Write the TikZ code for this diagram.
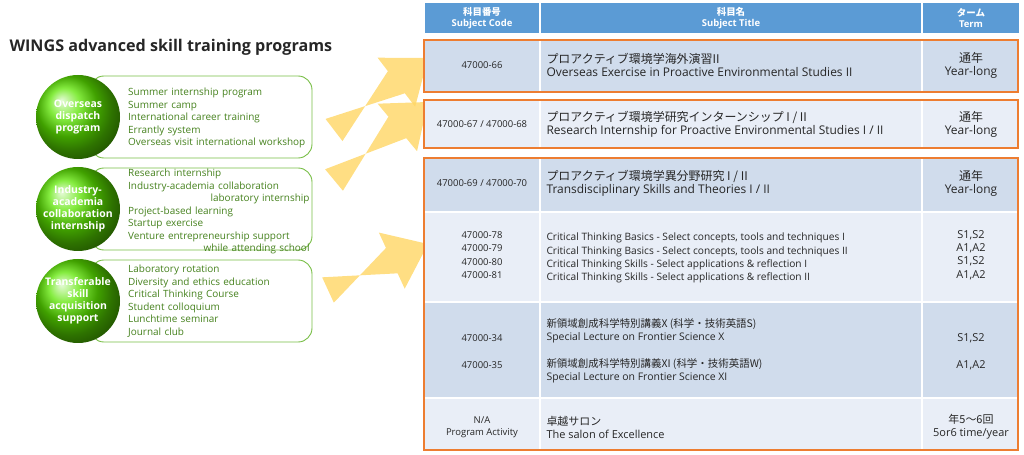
\documentclass[tikz,border=0pt]{standalone}
\usepackage{fontspec}
\setmainfont{Open Sans}
\newfontfamily\jp{Noto Sans CJK JP}
\usetikzlibrary{positioning, calc}
\definecolor{hdrblue}{RGB}{91,155,213}
\definecolor{rowdark}{RGB}{208,220,236}
\definecolor{rowlight}{RGB}{233,238,247}
\definecolor{frameorange}{RGB}{237,125,49}
\definecolor{listgreen}{RGB}{70,130,30}
\definecolor{boxgreen}{RGB}{120,190,70}
\definecolor{arrowyellow}{RGB}{255,214,100}
\tikzset{
  hdr/.style={fill=hdrblue, draw=white, line width=1.5},
  cell/.style={draw=white, line width=1.5},
  hdrtext/.style={text=white, font=\bfseries\fontsize{9.5}{11}\selectfont, align=center},
  codetext/.style={font=\fontsize{9.5}{12}\selectfont, align=center, text=black!85},
  titletext/.style={font=\fontsize{12}{13}\selectfont, align=left, anchor=west, text=black!85},
  termtext/.style={font=\fontsize{12}{13}\selectfont, align=center, text=black!85},
  listtext/.style={font=\fontsize{10}{12.5}\selectfont, text=listgreen, anchor=north west, align=left, text width=182, inner sep=0},
  progbox/.style={draw=boxgreen, fill=white, line width=0.9, rounded corners=14},
  ball/.style={ball color=green!60!yellow!90!black},
  balltext/.style={text=white, font=\bfseries\fontsize{10.5}{12}\selectfont, align=center},
  yarrowfill/.style={fill=arrowyellow, opacity=0.8}
}
% big arrow from #1 to #2
\newcommand{\yarrow}[2]{%
  \fill[yarrowfill] ($(#1)!14pt!90:(#2)$) -- ($($(#2)!40pt!(#1)$)!14pt!-90:(#2)$)
    -- ($($(#2)!40pt!(#1)$)!31pt!-90:(#2)$) -- (#2)
    -- ($($(#2)!40pt!(#1)$)!31pt!90:(#2)$) -- ($($(#2)!40pt!(#1)$)!14pt!90:(#2)$)
    -- ($(#1)!14pt!-90:(#2)$) -- cycle;}
\begin{document}
\begin{tikzpicture}[x=1bp, y=-1bp]
  \useasboundingbox (0,0) rectangle (1024,455);
  % Title
  \node[anchor=west, font=\bfseries\fontsize{16.2}{18}\selectfont, text=black!85] (title) at (6,47) {WINGS advanced skill training programs};
  % Arrows
  \coordinate (a1s) at (334,130); \coordinate (a1e) at (428,58);
  \coordinate (a2s) at (334,180); \coordinate (a2e) at (428,102);
  \coordinate (a3s) at (328,290); \coordinate (a3e) at (428,244);
  \yarrow{a1s}{a1e}
  \yarrow{a2s}{a2e}
  \yarrow{a3s}{a3e}
  % Program boxes
  \foreach \y/\n in {76/one,168/two,260/three} {
    \draw[progbox] (90,\y) rectangle (312,\y+82);
    \shade[ball] (78,\y+41) circle (42);
  }
  \node[balltext] (p1) at (78,117) {Overseas\\dispatch\\program};
  \node[balltext] (p2) at (78,209) {Industry-\\academia\\collaboration\\internship};
  \node[balltext] (p3) at (78,301) {Transferable\\skill\\acquisition\\support};
  \node[listtext] (l1) at (128,88) {Summer internship program\\Summer camp\\International career training\\Errantly system\\Overseas visit international workshop};
  \node[listtext] (l2) at (128,169) {Research internship\\Industry-academia collaboration\\\hspace*{\fill}laboratory internship\\Project-based learning\\Startup exercise\\Venture entrepreneurship support\\\hspace*{\fill}while attending school};
  \node[listtext] (l3) at (128,265) {Laboratory rotation\\Diversity and ethics education\\Critical Thinking Course\\Student colloquium\\Lunchtime seminar\\Journal club};
  % Table header
  \draw[hdr] (424,2) rectangle (540,34);
  \draw[hdr] (540,2) rectangle (922,34);
  \draw[hdr] (922,2) rectangle (1020,34);
  \node[hdrtext] (h1) at (482,18) {{\jp 科目番号}\\Subject Code};
  \node[hdrtext] (h2) at (731,18) {{\jp 科目名}\\Subject Title};
  \node[hdrtext] (h3) at (971,18) {{\jp ターム}\\Term};
  % Table rows
  \foreach \t/\b/\c in {40/92/rowdark,98/148/rowlight,158/212/rowdark,212/302/rowlight,302/398/rowdark,398/450/rowlight} {
    \draw[cell, fill=\c] (424,\t) rectangle (540,\b);
    \draw[cell, fill=\c] (540,\t) rectangle (922,\b);
    \draw[cell, fill=\c] (922,\t) rectangle (1020,\b);
  }
  % Row texts
  \node[codetext] (c1) at (482,65) {47000-66};
  \node[titletext] (t1) at (543,65) {{\jp プロアクティブ環境学海外演習II}\\Overseas Exercise in Proactive Environmental Studies II};
  \node[termtext] (m1) at (971,65) {{\jp 通年}\\Year-long};
  \node[codetext] (c2) at (482,124) {47000-67 / 47000-68};
  \node[titletext] (t2) at (543,124) {{\jp プロアクティブ環境学研究インターンシップ I / II}\\Research Internship for Proactive Environmental Studies I / II};
  \node[termtext] (m2) at (971,124) {{\jp 通年}\\Year-long};
  \node[codetext] (c3) at (482,183) {47000-69 / 47000-70};
  \node[titletext] (t3) at (543,183) {{\jp プロアクティブ環境学異分野研究 I / II}\\Transdisciplinary Skills and Theories I / II};
  \node[termtext] (m3) at (971,183) {{\jp 通年}\\Year-long};
  \node[codetext, font=\fontsize{9.5}{13.3}\selectfont] (c4) at (482,255) {47000-78\\47000-79\\47000-80\\47000-81};
  \node[titletext, font=\fontsize{10.2}{13.3}\selectfont] (t4) at (543,258) {Critical Thinking Basics - Select concepts, tools and techniques I\\Critical Thinking Basics - Select concepts, tools and techniques II\\Critical Thinking Skills - Select applications \& reflection I\\Critical Thinking Skills - Select applications \& reflection II};
  \node[termtext, font=\fontsize{11}{13.3}\selectfont] (m4) at (971,255) {S1,S2\\A1,A2\\S1,S2\\A1,A2};
  \node[codetext] (c5) at (482,338) {47000-34};
  \node[codetext] (c6) at (482,365) {47000-35};
  \node[titletext, font=\fontsize{10.5}{13}\selectfont] (t5) at (543,331) {{\jp 新領域創成科学特別講義X (科学・技術英語S)}\\Special Lecture on Frontier Science X};
  \node[titletext, font=\fontsize{10.5}{13}\selectfont] (t6) at (543,371) {{\jp 新領域創成科学特別講義XI (科学・技術英語W)}\\Special Lecture on Frontier Science XI};
  \node[termtext, font=\fontsize{11}{13}\selectfont] (m5) at (971,338) {S1,S2};
  \node[termtext, font=\fontsize{11}{13}\selectfont] (m6) at (971,365) {A1,A2};
  \node[codetext] (c7) at (482,427) {N/A\\Program Activity};
  \node[titletext, font=\fontsize{11}{13}\selectfont] (t7) at (543,427) {{\jp 卓越サロン}\\The salon of Excellence};
  \node[termtext, font=\fontsize{11}{13}\selectfont] (m7) at (971,427) {{\jp 年5〜6回}\\5or6 time/year};
  % Orange frames
  \draw[frameorange, line width=1.5] (424,40) rectangle (1018,92);
  \draw[frameorange, line width=1.5] (424,100) rectangle (1018,148);
  \draw[frameorange, line width=1.5] (424,158) rectangle (1018,450);
\end{tikzpicture}
\end{document}
